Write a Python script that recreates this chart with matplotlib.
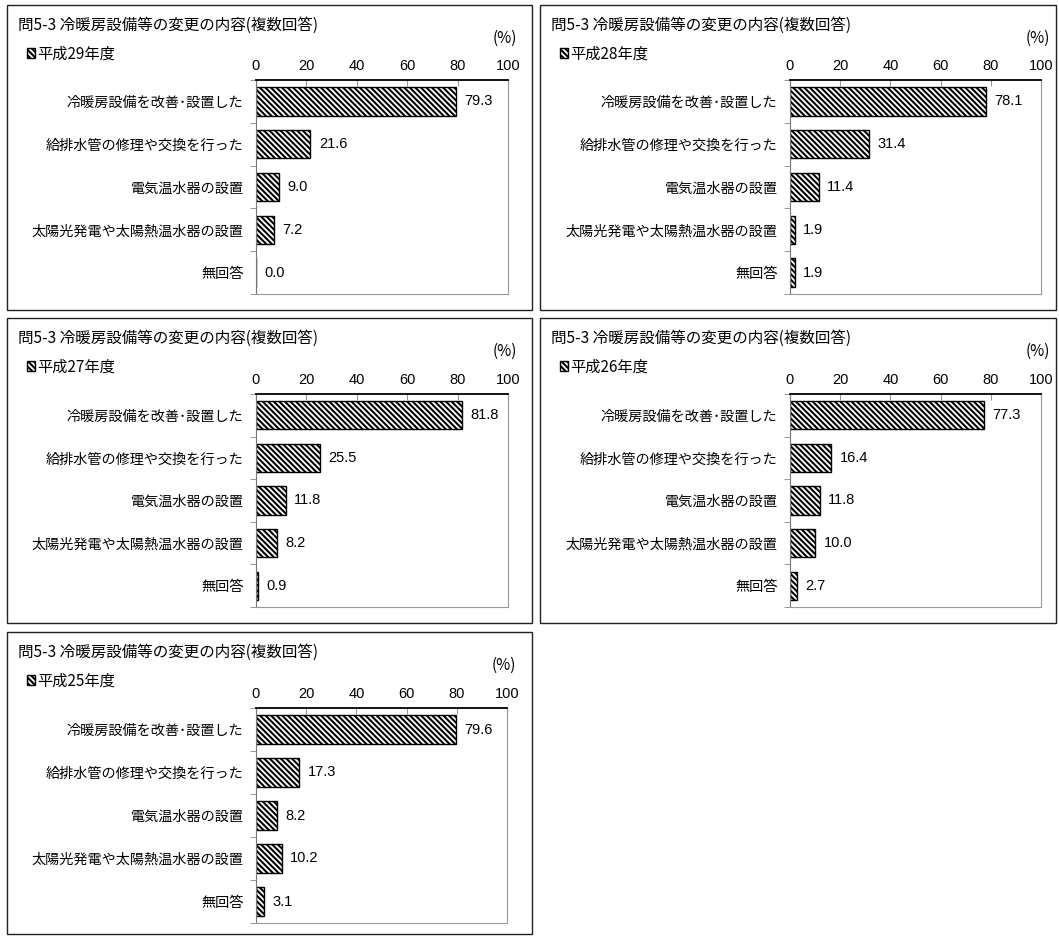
import matplotlib
matplotlib.use('Agg')
import matplotlib.pyplot as plt
from matplotlib.patches import Rectangle
import numpy as np

plt.rcParams['font.family'] = ['Noto Sans CJK JP', 'DejaVu Sans']
plt.rcParams['hatch.linewidth'] = 1.5

# data
title = '問5-3 冷暖房設備等の変更の内容(複数回答)'
categories = ['冷暖房設備を改善･設置した', '給排水管の修理や交換を行った', '電気温水器の設置',
              '太陽光発電や太陽熱温水器の設置', '無回答']
years = ['平成29年度', '平成28年度', '平成27年度', '平成26年度', '平成25年度']
h29 = [79.3, 21.6, 9.0, 7.2, 0.0]
h28 = [78.1, 31.4, 11.4, 1.9, 1.9]
h27 = [81.8, 25.5, 11.8, 8.2, 0.9]
h26 = [77.3, 16.4, 11.8, 10.0, 2.7]
h25 = [79.6, 17.3, 8.2, 10.2, 3.1]
xticks = [0, 20, 40, 60, 80, 100]

num_font = ['Liberation Sans', 'DejaVu Sans']

W, H = 1059, 936
fig = plt.figure(figsize=(W / 100, H / 100), dpi=100)


def fx(px):
    return px / W


def fy(py):
    return 1 - py / H


def draw_panel(box, axbox, year, values):
    l, t, r, b = box
    fig.patches.append(Rectangle((fx(l), fy(b)), fx(r) - fx(l), fy(t) - fy(b),
                                 transform=fig.transFigure, fill=False,
                                 edgecolor='#222222', lw=1.0))
    al, at, ar, ab = axbox
    ax = fig.add_axes([fx(al), fy(ab), fx(ar) - fx(al), fy(at) - fy(ab)])
    y = np.arange(len(categories))
    bars = ax.barh(y, values, height=0.66, color='white', edgecolor='black',
                   hatch='\\' * 6, lw=1.0)
    ax.set_ylim(len(categories) - 0.5, -0.5)
    ax.set_xlim(0, 100)
    ax.set_xticks(xticks)
    ax.xaxis.tick_top()
    ax.tick_params(axis='x', direction='in', length=4, color='#999999', pad=5,
                   labelsize=10.5, labelfontfamily=num_font)
    ax.set_yticks(y)
    ax.set_yticklabels(categories, fontsize=10.2)
    ax.set_yticks(np.arange(-0.5, len(categories)), minor=True)
    ax.tick_params(axis='y', which='major', length=0, pad=9)
    ax.tick_params(axis='y', which='minor', length=4, color='#888888', direction='out')
    ax.spines['top'].set_color('black')
    ax.spines['top'].set_linewidth(1.3)
    ax.spines['left'].set_color('#777777')
    for s in ['right', 'bottom']:
        ax.spines[s].set_color('#999999')
    for yi, v in enumerate(values):
        ax.annotate(f'{v:.1f}', (v, yi), xytext=(6, 0), textcoords='offset points',
                    va='center', ha='left', fontsize=10.5, family=num_font)
    ax.legend(handles=[bars], labels=[year], loc='center left',
              bbox_to_anchor=(fx(l + 20), fy(t + 49)), bbox_transform=fig.transFigure,
              frameon=False, handlelength=0.55, handleheight=0.55, handletextpad=0.15,
              borderaxespad=0, borderpad=0, fontsize=11)
    fig.text(fx(l + 11), fy(t + 20), title, ha='left', va='center', fontsize=11.2)
    fig.text(fx(ar + 9), fy(t + 33), '(%)', ha='right', va='center', fontsize=11)


draw_panel((7, 5, 532, 310), (256, 80, 508, 294), years[0], h29)
draw_panel((540, 5, 1056, 310), (790, 80, 1041, 294), years[1], h28)
draw_panel((7, 318, 532, 623), (256, 394, 508, 607), years[2], h27)
draw_panel((540, 318, 1056, 623), (790, 394, 1041, 607), years[3], h26)
draw_panel((7, 632, 532, 934), (256, 708, 507, 923), years[4], h25)

fig.savefig('out.png', dpi=100)
